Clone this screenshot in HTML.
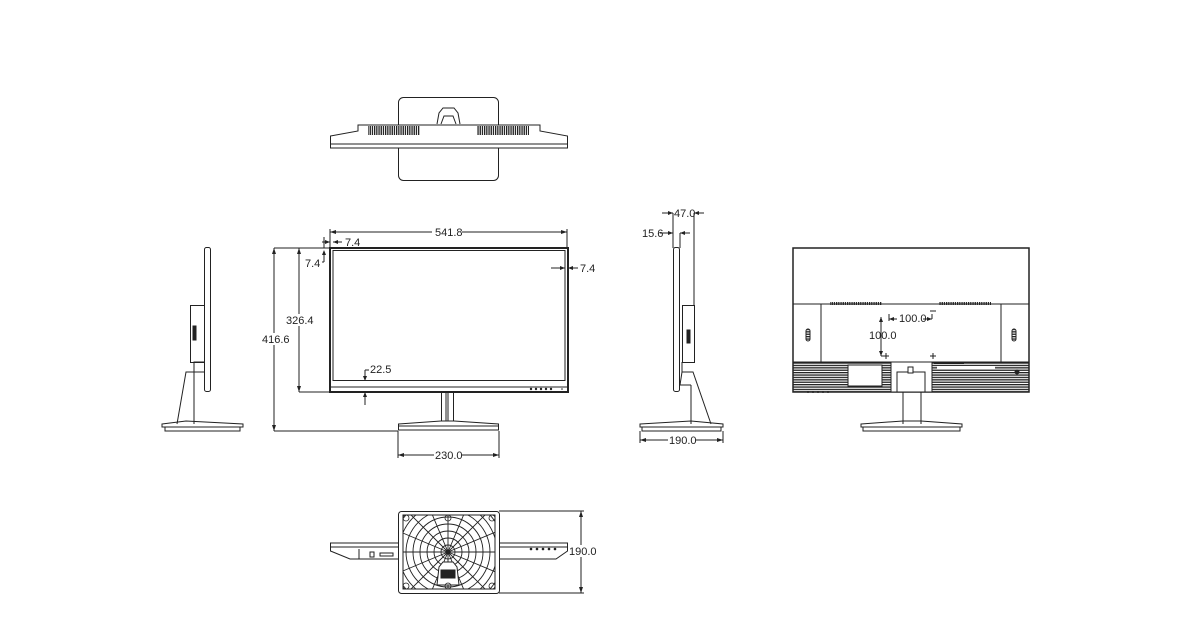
<!DOCTYPE html>
<html><head><meta charset="utf-8"><style>
html,body{margin:0;padding:0;background:#fff;}
svg{display:block}
text{font-family:"Liberation Sans",sans-serif;font-size:11px;fill:#222;}
</style></head><body>
<svg width="1200" height="630" viewBox="0 0 1200 630" xmlns="http://www.w3.org/2000/svg">
<defs>
<pattern id="stripe" width="4" height="2.4" patternUnits="userSpaceOnUse"><rect width="4" height="1.3" fill="#222"/></pattern>
<pattern id="vent" width="2.2" height="4" patternUnits="userSpaceOnUse"><rect width="1.3" height="4" fill="#222"/></pattern>
<clipPath id="gc"><rect x="403" y="515" width="92" height="74"/></clipPath>
</defs>
<g fill="none" stroke="#222" stroke-width="1">

<!-- TOP VIEW -->
<rect x="398.5" y="97.5" width="100" height="83" rx="5"/>
<path d="M330.5,136 L358,131 L358,125 L540,125 L540,131 L567.5,136 L567.5,148 L330.5,148 Z" fill="#fff"/>
<line x1="330" y1="144" x2="568" y2="144"/>
<rect x="368" y="126" width="52" height="9" fill="url(#vent)" stroke="none"/>
<rect x="477" y="126" width="52" height="9" fill="url(#vent)" stroke="none"/>
<path d="M437,124 L439,113 L443,108 L454,108 L458,113 L460,124"/>
<path d="M441,124 L444,116 L453,116 L456,124"/>

<!-- FRONT VIEW -->
<rect x="330" y="248" width="238" height="144" stroke-width="2"/>
<rect x="333" y="250.5" width="232" height="130" stroke-width="1"/>
<line x1="330" y1="387" x2="568" y2="387"/>
<g fill="#222" stroke="none"><circle cx="531" cy="389" r="1.2"/><circle cx="536" cy="389" r="1.2"/><circle cx="541" cy="389" r="1.2"/><circle cx="546" cy="389" r="1.2"/><circle cx="551" cy="389" r="1.2"/><circle cx="562" cy="389" r="0.8"/></g>
<path d="M441.5,392 L441.5,421 M446,392 L446,421 M448,392 L448,421 M453.5,392 L453.5,421"/>
<path d="M398.5,424 L441,421 L454,421 L498.5,424 L498.5,430 L398.5,430 Z"/>
<line x1="398" y1="426" x2="499" y2="426"/>
<!-- dims front -->
<line x1="330" y1="232" x2="567" y2="232"/>
<line x1="330" y1="229" x2="330" y2="248"/><line x1="567" y1="229" x2="567" y2="248"/>
<line x1="274" y1="248" x2="330" y2="248"/>
<line x1="274" y1="248" x2="274" y2="431"/>
<line x1="274" y1="431" x2="398" y2="431"/>
<line x1="299" y1="248" x2="299" y2="392"/>
<line x1="299" y1="392" x2="330" y2="392"/>
<line x1="398" y1="431" x2="398" y2="458"/><line x1="499" y1="431" x2="499" y2="458"/>
<line x1="398" y1="455" x2="499" y2="455"/>
<line x1="322" y1="242" x2="330" y2="242"/><line x1="333" y1="242" x2="342" y2="242"/>
<line x1="324" y1="237" x2="324" y2="248"/>
<line x1="322" y1="262" x2="324" y2="262"/><line x1="324" y1="252" x2="324" y2="262"/>
<line x1="551" y1="268" x2="565" y2="268"/><line x1="568" y1="268" x2="578" y2="268"/>
<line x1="365" y1="370" x2="369" y2="370"/><line x1="365" y1="370" x2="365" y2="381"/>
<line x1="365" y1="392" x2="365" y2="405"/>

<!-- LEFT SIDE VIEW -->
<rect x="204.5" y="247.5" width="6" height="144" rx="2"/>
<rect x="190.5" y="305.5" width="14" height="57"/>
<rect x="193" y="326" width="3" height="14" fill="#222"/>
<path d="M204,362 L194,362 L194,372 L186,372 L177,424 M194,372 L194,424 M186,372 L204,372"/>
<path d="M162,424 L186,421 L243,424 L243,427 L162,427 Z"/>
<path d="M165,427 L165,431 L240,431 L240,427"/>

<!-- RIGHT SIDE VIEW -->
<rect x="673.5" y="247.5" width="6" height="144" rx="2"/>
<rect x="682.5" y="305.5" width="12" height="57"/>
<rect x="687" y="330" width="3" height="13" fill="#222"/>
<path d="M682,362 L682,372 L693,372 L711,424 M682,372 L680,385 L691,385 M691,385 L691,424"/>
<path d="M640,424 L691,421 L723,424 L723,427 L640,427 Z"/>
<path d="M642,427 L642,431 L721,431 L721,427"/>
<line x1="673" y1="213" x2="673" y2="248"/><line x1="694" y1="213" x2="694" y2="306"/>
<line x1="662" y1="213" x2="673" y2="213"/><line x1="694" y1="213" x2="704" y2="213"/>
<line x1="660" y1="233" x2="673" y2="233"/><line x1="680" y1="233" x2="690" y2="233"/>
<line x1="680" y1="233" x2="680" y2="248"/>
<line x1="640" y1="431" x2="640" y2="443"/><line x1="723" y1="431" x2="723" y2="443"/>
<line x1="640" y1="440" x2="723" y2="440"/>

<!-- BACK VIEW -->
<rect x="793" y="248" width="236" height="144" stroke-width="1.5"/>
<line x1="793" y1="304" x2="1029" y2="304"/>
<rect x="830" y="302" width="52" height="3" fill="url(#vent)" stroke="none"/>
<rect x="939" y="302" width="52" height="3" fill="url(#vent)" stroke="none"/>
<line x1="821" y1="304" x2="821" y2="362"/><line x1="1001" y1="304" x2="1001" y2="362"/>
<rect x="806" y="329" width="4" height="12" rx="2" fill="url(#stripe)"/>
<rect x="1012" y="329" width="4" height="12" rx="2" fill="url(#stripe)"/>
<rect x="793" y="362" width="236" height="30" fill="url(#stripe)" stroke="#222"/>
<rect x="848" y="365" width="34" height="21" fill="#fff"/>
<rect x="891" y="362" width="41" height="30" fill="#fff"/>
<rect x="897" y="372" width="28" height="20" fill="#fff"/>
<rect x="908" y="367" width="5" height="6" fill="#fff"/>
<rect x="934" y="362" width="30" height="2" fill="#222" stroke="none"/>
<rect x="937" y="366" width="58" height="3" fill="#fff" stroke="none"/>
<circle cx="1017" cy="372" r="2" fill="#222"/>
<path d="M903,392 L903,424 M921,392 L921,424"/>
<path d="M861,424 L903,421 L921,421 L962,424 L962,427 L861,427 Z"/>
<path d="M863,427 L863,431 L960,431 L960,427"/>
<g fill="#222" stroke="none"><circle cx="808" cy="392" r="1"/><circle cx="813" cy="392" r="1"/><circle cx="818" cy="392" r="1"/><circle cx="823" cy="392" r="1"/><circle cx="828" cy="392" r="1"/></g>
<line x1="881" y1="317" x2="881" y2="356"/>
<line x1="881" y1="356" x2="889" y2="356"/><line x1="886" y1="353" x2="886" y2="359"/>
<line x1="930" y1="356" x2="936" y2="356"/><line x1="933" y1="353" x2="933" y2="359"/>
<line x1="889" y1="314" x2="889" y2="321"/><line x1="889" y1="319" x2="897" y2="319"/>
<line x1="923" y1="319" x2="932" y2="319"/><line x1="932" y1="314" x2="932" y2="319"/>
<line x1="930" y1="311" x2="936" y2="311"/>

<!-- BOTTOM VIEW -->
<path d="M330.5,543 L567.5,543 L567.5,551 L556,559 L350,559 L330.5,551 Z"/>
<line x1="330" y1="547" x2="568" y2="547"/>
<rect x="370" y="552" width="4" height="5"/><rect x="380" y="553" width="13" height="3"/>
<line x1="359" y1="549" x2="359" y2="559"/>
<g fill="#222" stroke="none"><circle cx="531" cy="549" r="1.3"/><circle cx="537" cy="549" r="1.3"/><circle cx="543" cy="549" r="1.3"/><circle cx="549" cy="549" r="1.3"/><circle cx="555" cy="549" r="1.3"/></g>
<rect x="398.5" y="511.5" width="101" height="82" rx="3" fill="#fff"/>
<rect x="403" y="515" width="92" height="74"/>
<g clip-path="url(#gc)" stroke-width="0.9">
<circle cx="448" cy="552" r="7"/><circle cx="448" cy="552" r="14"/><circle cx="448" cy="552" r="21"/><circle cx="448" cy="552" r="28"/><circle cx="448" cy="552" r="35"/><circle cx="448" cy="552" r="42"/><circle cx="448" cy="552" r="49"/><circle cx="448" cy="552" r="56"/>
<path d="M448,552 L448,490 M448,552 L448,614 M448,552 L386,552 M448,552 L510,552 M448,552 L404,508 M448,552 L492,508 M448,552 L404,596 M448,552 L492,596 M448,552 L391,528 M448,552 L505,528 M448,552 L391,576 M448,552 L505,576 M448,552 L424,495 M448,552 L472,495 M448,552 L424,609 M448,552 L472,609"/>
</g>
<path d="M437,585 L439,567 L443,562 L453,562 L457,567 L459,585 Z" fill="#fff"/>
<rect x="441" y="570" width="14" height="8" fill="#222"/>
<g stroke-width="0.8"><circle cx="406" cy="518" r="3"/><circle cx="492" cy="518" r="3"/><circle cx="406" cy="586" r="3"/><circle cx="492" cy="586" r="3"/><circle cx="448" cy="518" r="3"/><circle cx="448" cy="586" r="3"/></g>
<line x1="499" y1="511" x2="584" y2="511"/><line x1="499" y1="593" x2="584" y2="593"/>
<line x1="581" y1="511" x2="581" y2="593"/>
</g>
<!-- arrowheads -->
<g fill="#222">
<path d="M330,232 l6,-2 v4z"/><path d="M567,232 l-6,-2 v4z"/>
<path d="M274,248 l-2,6 h4z"/><path d="M274,431 l-2,-6 h4z"/>
<path d="M299,248 l-2,6 h4z"/><path d="M299,392 l-2,-6 h4z"/>
<path d="M398,455 l6,-2 v4z"/><path d="M499,455 l-6,-2 v4z"/>
<path d="M330,242 l-5,-2 v4z"/><path d="M333,242 l5,-2 v4z"/>
<path d="M565,268 l-5,-2 v4z"/><path d="M568,268 l5,-2 v4z"/>
<path d="M324,250 l-2,5 h4z"/>
<path d="M365,381 l-2,-5 h4z"/><path d="M365,392 l-2,5 h4z"/>
<path d="M673,213 l-5,-2 v4z"/><path d="M694,213 l5,-2 v4z"/>
<path d="M673,233 l-5,-2 v4z"/><path d="M680,233 l5,-2 v4z"/>
<path d="M640,440 l6,-2 v4z"/><path d="M723,440 l-6,-2 v4z"/>
<path d="M881,317 l-2,5 h4z"/><path d="M881,356 l-2,-5 h4z"/>
<path d="M889,319 l5,-2 v4z"/><path d="M932,319 l-5,-2 v4z"/>
<path d="M581,511 l-2,6 h4z"/><path d="M581,593 l-2,-6 h4z"/>
</g>
<!-- labels -->
<g>
<rect x="432" y="226" width="30" height="11" fill="#fff"/>
<text x="435" y="236">541.8</text>
<text x="345" y="246">7.4</text>
<text x="305" y="267">7.4</text>
<text x="580" y="272">7.4</text>
<rect x="286" y="314" width="26" height="12" fill="#fff"/>
<text x="286" y="324">326.4</text>
<rect x="262" y="333" width="26" height="12" fill="#fff"/>
<text x="262" y="343">416.6</text>
<text x="370" y="373">22.5</text>
<rect x="434" y="449" width="28" height="12" fill="#fff"/>
<text x="435" y="459">230.0</text>
<text x="674" y="217">47.0</text>
<text x="642" y="237">15.6</text>
<rect x="668" y="434" width="28" height="12" fill="#fff"/>
<text x="669" y="444">190.0</text>
<rect x="898" y="313" width="25" height="12" fill="#fff"/>
<text x="899" y="322">100.0</text>
<text x="869" y="339">100.0</text>
<rect x="569" y="545" width="26" height="12" fill="#fff"/>
<text x="569" y="555">190.0</text>
</g>
</svg>
</body></html>
